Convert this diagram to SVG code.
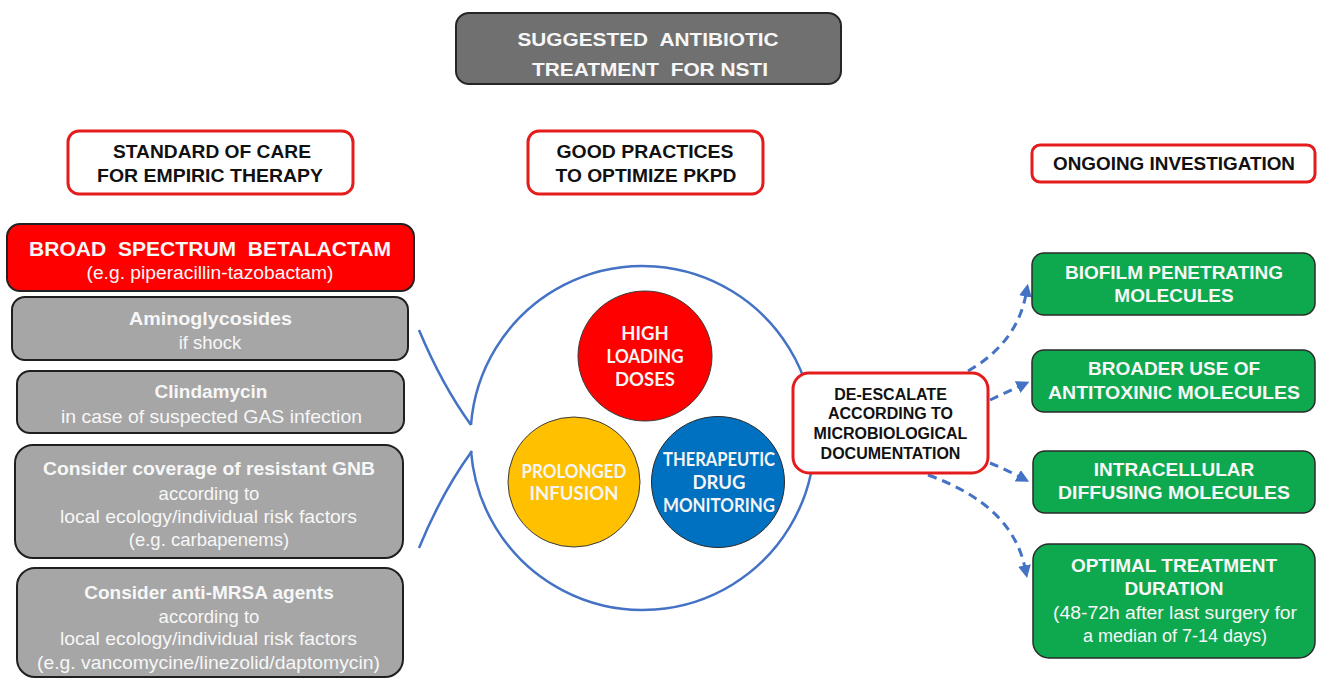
<svg xmlns="http://www.w3.org/2000/svg" width="1318" height="678" viewBox="0 0 1318 678">
<style>
text{font-family:"Liberation Sans",Arial,sans-serif;text-anchor:middle}
.b{font-weight:bold}
.w{fill:#f7f7f7}
.k{fill:#111}
.hdr{fill:#fff;stroke:#e41c1c;stroke-width:3}
.gray{fill:#a6a6a6;stroke:#1f1f1f;stroke-width:2}
.green{fill:#0ea84e;stroke:#2a2a2a;stroke-width:1.5}
.ct{font-family:Lato,"Open Sans","Liberation Sans",sans-serif;font-weight:bold;font-size:18.5px;fill:#f5f5f5}
.dash{fill:none;stroke:#4472c4;stroke-width:3;stroke-dasharray:9 6}
.ring{fill:none;stroke:#4472c4;stroke-width:2.5}
</style>
<defs>
<marker id="ah" viewBox="0 0 10 10" refX="2" refY="5" markerWidth="4.3" markerHeight="4.3" orient="auto" markerUnits="strokeWidth">
<path d="M0,0 L10,5 L0,10 z" fill="#4472c4"/>
</marker>
</defs>
<rect width="1318" height="678" fill="#fff"/>

<g id="title">
<rect x="456" y="13" width="385" height="71" rx="13" fill="#707070" stroke="#262626" stroke-width="2"/>
<text x="648" y="46" class="b w" font-size="19" textLength="261" lengthAdjust="spacingAndGlyphs">SUGGESTED&#160;&#160;ANTIBIOTIC</text>
<text x="650" y="76" class="b w" font-size="19" textLength="236" lengthAdjust="spacingAndGlyphs">TREATMENT&#160;&#160;FOR NSTI</text>
</g>

<g id="hdr-standard">
<rect x="68" y="131" width="285" height="63" rx="11" class="hdr"/>
<text x="212" y="158" class="b k" font-size="18.5" textLength="198" lengthAdjust="spacingAndGlyphs">STANDARD OF CARE</text>
<text x="210" y="182" class="b k" font-size="18.5" textLength="226" lengthAdjust="spacingAndGlyphs">FOR EMPIRIC THERAPY</text>
</g>
<g id="hdr-good">
<rect x="528" y="131" width="235" height="63" rx="11" class="hdr"/>
<text x="645" y="158" class="b k" font-size="18.5" textLength="177" lengthAdjust="spacingAndGlyphs">GOOD PRACTICES</text>
<text x="646" y="182" class="b k" font-size="18.5" textLength="181" lengthAdjust="spacingAndGlyphs">TO OPTIMIZE PKPD</text>
</g>
<g id="hdr-ongoing">
<rect x="1032" y="145" width="283" height="37" rx="8" class="hdr"/>
<text x="1174" y="170" class="b k" font-size="18.5" textLength="242" lengthAdjust="spacingAndGlyphs">ONGOING INVESTIGATION</text>
</g>

<g id="betalactam">
<rect x="7" y="224" width="407" height="67" rx="13" fill="#ff0000" stroke="#222" stroke-width="2"/>
<text x="210" y="255.5" class="b w" font-size="21" textLength="362" lengthAdjust="spacingAndGlyphs">BROAD&#160;&#160;SPECTRUM&#160;&#160;BETALACTAM</text>
<text x="210" y="278.5" class="w" font-size="18" textLength="247" lengthAdjust="spacingAndGlyphs">(e.g. piperacillin-tazobactam)</text>
</g>
<g id="aminoglycosides">
<rect x="12" y="297" width="396" height="63" rx="13" class="gray"/>
<text x="210.5" y="325" class="b w" font-size="19" textLength="163" lengthAdjust="spacingAndGlyphs">Aminoglycosides</text>
<text x="210" y="348.5" class="w" font-size="18.5">if shock</text>
</g>
<g id="clindamycin">
<rect x="17" y="371" width="387" height="62" rx="13" class="gray"/>
<text x="211" y="398" class="b w" font-size="19">Clindamycin</text>
<text x="211.5" y="422.5" class="w" font-size="18.5" textLength="301" lengthAdjust="spacingAndGlyphs">in case of suspected GAS infection</text>
</g>
<g id="gnb">
<rect x="15" y="445" width="388" height="113" rx="18" class="gray"/>
<text x="209" y="475" class="b w" font-size="19" textLength="332" lengthAdjust="spacingAndGlyphs">Consider coverage of resistant GNB</text>
<text x="209" y="499.5" class="w" font-size="18.5">according to</text>
<text x="208.5" y="522.5" class="w" font-size="18.5" textLength="297" lengthAdjust="spacingAndGlyphs">local ecology/individual risk factors</text>
<text x="209" y="545.5" class="w" font-size="18.5">(e.g. carbapenems)</text>
</g>
<g id="mrsa">
<rect x="17" y="568" width="386" height="109" rx="18" class="gray"/>
<text x="209" y="599" class="b w" font-size="19">Consider anti-MRSA agents</text>
<text x="209" y="622.5" class="w" font-size="18.5">according to</text>
<text x="208.5" y="644.5" class="w" font-size="18.5" textLength="297" lengthAdjust="spacingAndGlyphs">local ecology/individual risk factors</text>
<text x="208.5" y="668.5" class="w" font-size="18.5" textLength="343" lengthAdjust="spacingAndGlyphs">(e.g. vancomycine/linezolid/daptomycin)</text>
</g>

<g id="pkpd-ring">
<path class="ring" d="M471 425 A172 172 0 1 1 471 451"/>
<path class="ring" d="M419 330 Q442 385 471 425"/>
<path class="ring" d="M419 548 Q442 492 472 451"/>
</g>
<g id="loading-doses">
<ellipse cx="645" cy="356" rx="67" ry="65" fill="#ff0000" stroke="#3a3a3a" stroke-width="1"/>
<text x="645" y="340" class="ct">HIGH</text>
<text x="645" y="363" class="ct" textLength="77" lengthAdjust="spacingAndGlyphs">LOADING</text>
<text x="645" y="386" class="ct">DOSES</text>
</g>
<g id="prolonged-infusion">
<ellipse cx="574" cy="482" rx="66" ry="65" fill="#ffc000" stroke="#3a3a3a" stroke-width="1"/>
<text x="574" y="478" class="ct" textLength="105" lengthAdjust="spacingAndGlyphs">PROLONGED</text>
<text x="574" y="500" class="ct">INFUSION</text>
</g>
<g id="tdm">
<ellipse cx="718" cy="482" rx="66.5" ry="65.5" fill="#0070c0" stroke="#2a2a2a" stroke-width="1"/>
<text x="719" y="466" class="ct" textLength="112" lengthAdjust="spacingAndGlyphs">THERAPEUTIC</text>
<text x="719" y="489" class="ct">DRUG</text>
<text x="719" y="512" class="ct" textLength="112" lengthAdjust="spacingAndGlyphs">MONITORING</text>
</g>

<g id="connectors">
<path class="dash" d="M968 371 Q1017 343 1026 294" marker-end="url(#ah)"/>
<path class="dash" d="M990 400 Q1005 393 1020 386" marker-end="url(#ah)"/>
<path class="dash" d="M990 463 Q1005 469 1020 477" marker-end="url(#ah)"/>
<path class="dash" d="M928 475 Q1012 505 1025 568" marker-end="url(#ah)"/>
</g>

<g id="deescalate">
<rect x="793" y="373" width="195" height="100" rx="16" class="hdr"/>
<text x="890.5" y="400" class="b k" font-size="16">DE-ESCALATE</text>
<text x="890.5" y="419" class="b k" font-size="16">ACCORDING TO</text>
<text x="890.5" y="439" class="b k" font-size="16">MICROBIOLOGICAL</text>
<text x="890.5" y="459" class="b k" font-size="16">DOCUMENTATION</text>
</g>

<g id="biofilm">
<rect x="1032" y="253" width="283" height="62" rx="12" class="green"/>
<text x="1174" y="279" class="b w" font-size="19">BIOFILM PENETRATING</text>
<text x="1174" y="302" class="b w" font-size="19">MOLECULES</text>
</g>
<g id="antitoxinic">
<rect x="1032" y="350" width="283" height="62" rx="12" class="green"/>
<text x="1174" y="375" class="b w" font-size="19">BROADER USE OF</text>
<text x="1174" y="399" class="b w" font-size="19" textLength="252" lengthAdjust="spacingAndGlyphs">ANTITOXINIC MOLECULES</text>
</g>
<g id="intracellular">
<rect x="1033" y="451" width="282" height="62" rx="12" class="green"/>
<text x="1174" y="476" class="b w" font-size="19">INTRACELLULAR</text>
<text x="1174" y="499" class="b w" font-size="19" textLength="232" lengthAdjust="spacingAndGlyphs">DIFFUSING MOLECULES</text>
</g>
<g id="duration">
<rect x="1033" y="544" width="282" height="114" rx="16" class="green"/>
<text x="1174" y="572" class="b w" font-size="19">OPTIMAL TREATMENT</text>
<text x="1174" y="595" class="b w" font-size="19">DURATION</text>
<text x="1175" y="618.5" class="w" font-size="18" textLength="244" lengthAdjust="spacingAndGlyphs">(48-72h after last surgery for</text>
<text x="1175" y="641.5" class="w" font-size="18">a median of 7-14 days)</text>
</g>
</svg>
